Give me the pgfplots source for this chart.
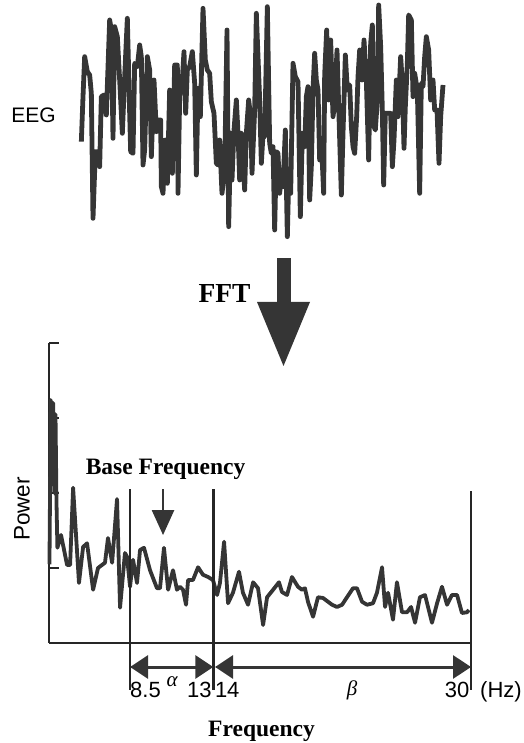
\documentclass[border=0pt]{standalone}
\usepackage{fontspec}
\setmainfont{Liberation Sans}
\newfontfamily\serif{Liberation Serif}
\usepackage{pgfplots}
\pgfplotsset{compat=1.18}
\usetikzlibrary{arrows.meta}
\definecolor{ink}{HTML}{353535}
\definecolor{axisink}{HTML}{262626}

\begin{document}
\begin{tikzpicture}
\useasboundingbox (0pt,0pt) rectangle (523pt,743pt);

% raw EEG trace (sample index vs amplitude, arbitrary units)
\begin{axis}[
  at={(78pt,503pt)}, anchor=south west,
  scale only axis, width=365pt, height=240pt,
  xmin=0, xmax=1095, ymin=-360, ymax=360,
  hide axis, clip=false,
]
\addplot[ink, line width=4.8pt, line join=round] coordinates {
  (10,-65) (15,70) (20,190) (28,145) (35,135) (40,80) (45,-295) (52,-95)
  (60,-95) (65,-140) (70,70) (78,75) (85,15) (95,300) (100,270) (105,-55)
  (110,280) (118,250) (125,120) (133,-40) (140,130) (148,305) (155,20)
  (158,-95) (165,-100) (170,170) (178,160) (185,225) (190,190) (195,-135)
  (200,-90) (208,190) (215,150) (220,-110) (228,120) (235,-35) (240,0)
  (248,0) (250,-200) (255,-220) (262,-60) (268,-190) (275,90) (283,-160)
  (290,165) (298,165) (300,-220) (305,70) (312,105) (318,205) (323,20)
  (328,150) (335,160) (343,205) (350,110) (355,-165) (360,95) (367,10)
  (375,335) (382,180) (388,150) (395,140) (400,55) (408,20) (415,-130)
  (420,-135) (425,-60) (432,-220) (440,-150) (447,270) (452,-320)
  (458,-40) (462,-180) (468,-30) (475,60) (480,-40) (485,-180) (490,-40)
  (500,-210) (505,-40) (512,60) (518,10) (522,-160) (530,30) (535,320)
  (545,60) (550,-130) (555,-45) (560,-50) (568,340) (575,-70) (580,-100)
  (585,-80) (590,-330) (595,-95) (600,-100) (605,-220) (610,-160)
  (615,-200) (622,-30) (628,-350) (632,-180) (638,-220) (645,170)
  (652,130) (660,115) (667,-290) (673,-40) (680,-80) (685,70) (690,100)
  (695,-240) (700,-140) (705,90) (710,200) (715,120) (720,90) (725,-120)
  (730,-60) (737,-220) (740,135) (746,270) (752,60) (758,240) (765,10)
  (770,50) (777,210) (783,10) (790,-225) (795,-40) (802,195) (808,90)
  (815,105) (820,-20) (825,-80) (830,-100) (836,10) (840,130) (845,210)
  (852,120) (858,240) (865,120) (872,-120) (878,230) (883,285) (888,-20)
  (892,-30) (898,60) (902,345) (908,220) (913,30) (917,-195) (922,20)
  (930,20) (938,20) (943,-140) (948,-60) (955,120) (960,10) (968,190)
  (973,110) (978,-85) (982,40) (988,170) (992,315) (1000,300) (1005,70)
  (1010,140) (1018,90) (1025,-220) (1030,110) (1035,100) (1040,190)
  (1045,250) (1052,210) (1058,60) (1065,120) (1070,30) (1077,30)
  (1083,-130) (1088,10) (1095,105)
};
\end{axis}

\node[font=\fontsize{21}{24}\selectfont, inner sep=0pt] at (33.5pt,628pt) {EEG};

% FFT arrow
\node[font=\serif\bfseries\fontsize{27.5}{30}\selectfont, anchor=base, inner sep=0pt]
  at (224.5pt,440pt) {FFT};
\fill[ink] (276.5pt,485pt) rectangle (290.5pt,440pt);
\fill[ink] (257pt,441pt) -- (310pt,441pt) -- (283.5pt,377pt) -- cycle;

\node[font=\fontsize{22.5}{26}\selectfont, rotate=90, inner sep=0pt] at (22pt,234pt) {Power};

% power spectrum
\begin{axis}[
  at={(49pt,100pt)}, anchor=south west,
  scale only axis, width=422pt, height=300pt,
  xmin=3.39, xmax=30, ymin=0, ymax=4,
  axis x line*=bottom, axis y line*=left,
  axis line style={-, line width=2.6pt, axisink},
  xtick=\empty, ytick={1,2,3,4}, yticklabels={},
  tick align=inside, major tick length=10pt,
  tick style={line width=2.6pt, axisink},
  clip=false,
]
\addplot[ink, line width=3.8pt, line join=round] coordinates {
  (3.42,1.05) (3.50,3.24) (3.58,2.60) (3.65,3.20) (3.72,2.00) (3.80,3.05)
  (3.86,1.90) (3.92,1.27) (4.15,1.44) (4.53,1.04) (4.72,1.04) (4.91,2.07)
  (5.28,0.80) (5.54,1.28) (5.79,1.33) (6.17,0.71) (6.48,1.00) (6.92,1.07)
  (7.11,1.40) (7.37,1.07) (7.68,1.92) (7.87,0.47) (8.18,1.20) (8.31,1.15)
  (8.50,0.75) (8.69,1.11) (8.94,0.80) (9.13,1.24) (9.38,1.27) (9.76,0.97)
  (10.20,0.73) (10.39,0.73) (10.64,1.27) (10.90,0.71) (11.21,0.97)
  (11.46,0.71) (11.65,0.75) (11.84,0.71) (12.03,0.51) (12.16,0.84)
  (12.47,0.84) (12.79,1.01) (13.10,0.91) (13.42,0.88) (13.73,0.84)
  (13.99,0.64) (14.17,0.80) (14.43,1.35) (14.68,0.53) (14.99,0.67)
  (15.37,0.95) (15.62,0.67) (15.94,0.51) (16.26,0.81) (16.57,0.73)
  (16.89,0.24) (17.14,0.61) (17.52,0.71) (17.89,0.81) (18.08,0.68)
  (18.40,0.64) (18.71,0.88) (19.09,0.75) (19.34,0.71) (19.53,0.73)
  (19.72,0.55) (20.04,0.35) (20.35,0.61) (20.67,0.60) (21.24,0.51)
  (21.55,0.48) (21.87,0.51) (22.18,0.61) (22.56,0.73) (22.81,0.73)
  (23.13,0.55) (23.44,0.51) (23.82,0.53) (24.07,0.67) (24.39,1.01)
  (24.58,0.48) (24.77,0.67) (25.08,0.31) (25.33,0.81) (25.65,0.41)
  (25.97,0.41) (26.22,0.48) (26.47,0.27) (26.78,0.61) (27.10,0.64)
  (27.54,0.27) (27.86,0.53) (28.17,0.75) (28.49,0.51) (28.80,0.64)
  (29.12,0.64) (29.43,0.40) (29.75,0.41) (29.87,0.44)
};

% band limits
\draw[line width=2.4pt, axisink] (axis cs:8.5,2.05) -- (axis cs:8.5,-0.63);
\draw[line width=2.4pt, axisink] (axis cs:13.75,2.05) -- (axis cs:13.75,-0.63);
\draw[line width=2.4pt, axisink] (axis cs:30,2.02) -- (axis cs:30,-0.63);

% band arrows
\draw[line width=3pt, ink, {Triangle[length=18pt,width=23pt]}-{Triangle[length=18pt,width=23pt]}]
  (axis cs:8.5,-0.32) -- (axis cs:13.75,-0.32);
\draw[line width=3pt, ink, {Triangle[length=18pt,width=23pt]}-{Triangle[length=18pt,width=23pt]}]
  (axis cs:13.86,-0.32) -- (axis cs:30,-0.32);

% base frequency marker
\node[font=\serif\bfseries\fontsize{23.5}{26}\selectfont, anchor=base, inner sep=0pt]
  at (axis cs:10.74,2.25) {Base Frequency};
\draw[line width=2.6pt, ink] (axis cs:10.58,2.05) -- (axis cs:10.58,1.75);
\fill[ink] (axis cs:9.87,1.77) -- (axis cs:11.29,1.77) -- (axis cs:10.58,1.44) -- cycle;

% labels under the axis
\begin{scope}[font=\fontsize{22}{26}\selectfont]
\node[anchor=base west, inner sep=0pt] at (axis cs:8.5,-0.72) {8.5};
\node[anchor=base east, inner sep=1.5pt] at (axis cs:13.75,-0.72) {13};
\node[anchor=base west, inner sep=1.5pt] at (axis cs:13.75,-0.72) {14};
\node[anchor=base east, inner sep=1.5pt] at (axis cs:30,-0.72) {30};
\node[anchor=base west, inner sep=0pt] at (axis cs:30.57,-0.72) {(Hz)};
\end{scope}
\node[font=\serif\itshape\fontsize{21}{24}\selectfont, inner sep=0pt] at (axis cs:11.15,-0.52) {α};
\node[font=\serif\itshape\fontsize{21}{24}\selectfont, inner sep=0pt] at (axis cs:22.5,-0.63) {β};
\node[font=\serif\bfseries\fontsize{23.5}{26}\selectfont, anchor=base, inner sep=0pt]
  at (axis cs:16.79,-1.25) {Frequency};
\end{axis}
\end{tikzpicture}
\end{document}
